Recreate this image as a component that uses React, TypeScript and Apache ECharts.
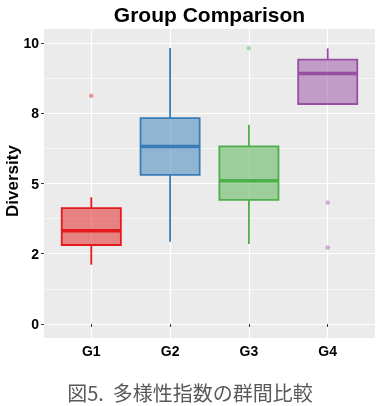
import React, { useEffect, useRef } from "react";
import * as echarts from "echarts";

const categories = ["G1", "G2", "G3", "G4"];
const groupPositions = [1, 2, 3, 4];
// [lower whisker, Q1, median, Q3, upper whisker]
const whiskerLow = [2.11, 2.93, 2.85, 7.83];
const quartile1 = [2.81, 5.31, 4.42, 7.83];
const medians = [3.32, 6.32, 5.1, 8.92];
const quartile3 = [4.12, 7.33, 6.32, 9.41];
const whiskerHigh = [4.51, 9.82, 7.09, 9.81];
const outlierGroup = [1, 3, 4, 4];
const outlierValues = [8.12, 9.82, 4.32, 2.72];
const yTickValues = [0, 2.5, 5, 7.5, 10];
const yTickLabels = ["0", "2", "5", "8", "10"];
const yMinorValues = [1.25, 3.75, 6.25, 8.75];

const strokeColors = ["#E41A1C", "#377EB8", "#4DAF4A", "#984EA3"];
const fillColors = [
  "rgba(228,26,28,0.5)",
  "rgba(55,126,184,0.5)",
  "rgba(77,175,74,0.5)",
  "rgba(152,78,163,0.5)",
];
const pointColors = [
  "rgba(228,26,28,0.55)",
  "rgba(55,126,184,0.55)",
  "rgba(77,175,74,0.55)",
  "rgba(152,78,163,0.55)",
];

const FONT = "'Liberation Sans', Arial, sans-serif";

export default function App() {
  const ref = useRef<HTMLDivElement>(null);
  useEffect(() => {
    if (!ref.current) return;
    const chart = echarts.init(ref.current, null, { renderer: "svg" });
    const boxData = groupPositions.map((x, i) => [
      x,
      whiskerLow[i],
      quartile1[i],
      medians[i],
      quartile3[i],
      whiskerHigh[i],
    ]);
    const outlierData = outlierGroup.map((g, i) => [g, outlierValues[i]]);
    const option: any = {
      animation: false,
      grid: {
        left: 44,
        top: 29,
        width: 331,
        height: 309,
        show: true,
        backgroundColor: "#EBEBEB",
        borderWidth: 0,
      },
      graphic: [
        {
          type: "text",
          x: 209.5,
          y: 14,
          style: {
            text: "Group Comparison",
            font: `bold 21px ${FONT}`,
            fill: "#000",
            textAlign: "center",
            textVerticalAlign: "middle",
          },
        },
        {
          type: "text",
          x: 12,
          y: 181,
          rotation: Math.PI / 2,
          style: {
            text: "Diversity",
            font: `bold 17px ${FONT}`,
            fill: "#000",
            textAlign: "center",
            textVerticalAlign: "middle",
          },
        },
        {
          type: "text",
          x: 190,
          y: 392,
          style: {
            text: "図5.  多様性指数の群間比較",
            font: `20px 'Noto Sans CJK JP', sans-serif`,
            fill: "#595959",
            textAlign: "center",
            textVerticalAlign: "middle",
          },
        },
      ],
      xAxis: {
        type: "value",
        min: 0.4,
        max: 4.6,
        axisLine: { show: false },
        axisTick: {
          show: true,
          customValues: groupPositions,
          length: 3,
          lineStyle: { color: "#333", width: 1 },
        },
        axisLabel: {
          customValues: groupPositions,
          formatter: (v: number) => categories[Math.round(v) - 1],
          fontFamily: FONT,
          fontWeight: "bold",
          fontSize: 14,
          color: "#000",
          margin: 6,
        },
        splitLine: { show: true, lineStyle: { color: "#FFFFFF", width: 1.2 } },
      },
      yAxis: [
        {
          type: "value",
          min: -0.5,
          max: 10.5,
          axisLine: { show: false },
          axisTick: {
            show: true,
            customValues: yTickValues,
            length: 3,
            lineStyle: { color: "#333", width: 1 },
          },
          axisLabel: {
            customValues: yTickValues,
            formatter: (v: number) => {
              const idx = yTickValues.indexOf(v);
              return idx >= 0 ? yTickLabels[idx] : "";
            },
            fontFamily: FONT,
            fontWeight: "bold",
            fontSize: 14,
            color: "#000",
            margin: 5,
          },
          splitLine: { show: true, lineStyle: { color: "#FFFFFF", width: 1.2 } },
        },
        {
          type: "value",
          min: -0.5,
          max: 10.5,
          position: "left",
          axisLine: { show: false },
          axisTick: { show: false, customValues: yMinorValues },
          axisLabel: { show: false, customValues: yMinorValues },
          splitLine: { show: true, lineStyle: { color: "#FFFFFF", width: 0.6 } },
        },
      ],
      series: [
        {
          type: "custom",
          xAxisIndex: 0,
          yAxisIndex: 0,
          encode: { x: 0, y: [1, 2, 3, 4, 5] },
          data: boxData,
          renderItem: (params: any, api: any) => {
            const i = params.dataIndex;
            const x = api.value(0);
            const pLo = api.coord([x, api.value(1)]);
            const pQ1 = api.coord([x, api.value(2)]);
            const pMed = api.coord([x, api.value(3)]);
            const pQ3 = api.coord([x, api.value(4)]);
            const pHi = api.coord([x, api.value(5)]);
            const half = api.size([0.75, 0])[0] / 2;
            const cx = pMed[0];
            const stroke = strokeColors[i];
            const lw = 1.8;
            return {
              type: "group",
              children: [
                {
                  type: "line",
                  shape: { x1: cx, y1: pHi[1], x2: cx, y2: pQ3[1] },
                  style: { stroke, lineWidth: lw },
                },
                {
                  type: "line",
                  shape: { x1: cx, y1: pQ1[1], x2: cx, y2: pLo[1] },
                  style: { stroke, lineWidth: lw },
                },
                {
                  type: "rect",
                  shape: {
                    x: cx - half,
                    y: pQ3[1],
                    width: half * 2,
                    height: pQ1[1] - pQ3[1],
                  },
                  style: { fill: fillColors[i], stroke, lineWidth: lw },
                },
                {
                  type: "line",
                  shape: { x1: cx - half, y1: pMed[1], x2: cx + half, y2: pMed[1] },
                  style: { stroke, lineWidth: 3.5 },
                },
              ],
            };
          },
        },
        {
          type: "scatter",
          xAxisIndex: 0,
          yAxisIndex: 0,
          data: outlierData,
          symbol: "circle",
          symbolSize: 4.5,
          itemStyle: {
            color: (p: any) => pointColors[Math.round(p.value[0]) - 1],
          },
        },
      ],
    };
    chart.setOption(option);
    return () => chart.dispose();
  }, []);
  return (
    <div
      ref={ref}
      style={{ position: "fixed", left: 0, top: 0, width: 380, height: 406 }}
    />
  );
}
